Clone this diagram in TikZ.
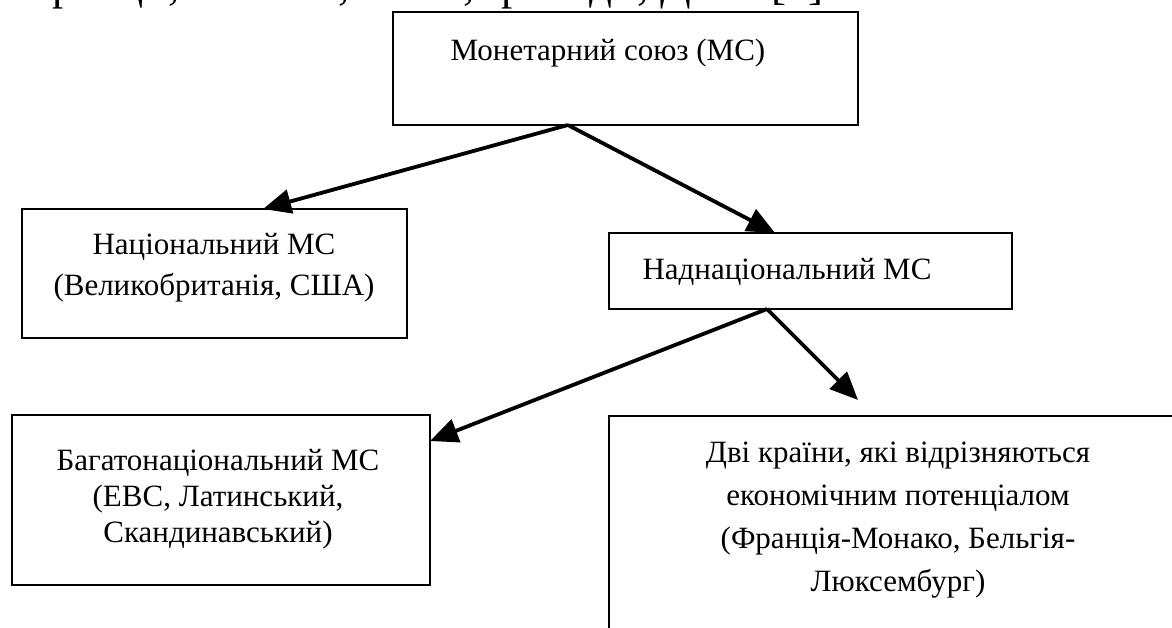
\documentclass[tikz,border=0pt]{standalone}
\usepackage{fontspec}
\setmainfont{Liberation Serif}
\usetikzlibrary{arrows.meta,calc}
\begin{document}
\begin{tikzpicture}[x=1pt,y=-1pt,
  box/.style={draw, line width=2.8pt, inner sep=0pt, outer sep=0pt},
  lbl/.style={font=\fontsize{31}{41}\selectfont, align=center, inner sep=0pt},
  arr/.style={line width=3.8pt, -{Triangle[length=28pt,width=24pt]}}]
\useasboundingbox (0,0) rectangle (1172,628);
\clip (0,0) rectangle (1172,628);
% cropped line of text at the top
\node[font=\fontsize{45}{54}\selectfont, inner sep=0pt, anchor=base west] (topline) at (17,0) {Франції, Монако, Італії, Ірландії, Данії [..].};
% boxes
\node[box, minimum width=465pt, minimum height=113pt, anchor=north west] (ms) at (393,12) {};
\node[box, minimum width=385pt, minimum height=129pt, anchor=north west] (nat) at (22,209) {};
\node[box, minimum width=403pt, minimum height=76pt, anchor=north west] (supra) at (609,233) {};
\node[box, minimum width=418pt, minimum height=170pt, anchor=north west] (multi) at (12,415) {};
\node[box, minimum width=700pt, minimum height=300pt, anchor=north west] (two) at (609,416) {};
% texts
\node[lbl] (tms) at (608,53) {Монетарний союз (МС)};
\node[lbl] (tnat) at (214,268) {Національний МС\\(Великобританія, США)};
\node[lbl] (tsupra) at (787,272) {Наднаціональний МС};
\node[lbl, font=\fontsize{31}{36}\selectfont] (tmulti) at (218,499) {Багатонаціональний МС\\(ЕВС, Латинський,\\Скандинавський)};
\node[lbl, font=\fontsize{31}{43}\selectfont] (ttwo) at (898,520) {Дві країни, які відрізняються\\економічним потенціалом\\(Франція-Монако, Бельгія-\\Люксембург)};
% connectors
\coordinate (tipfour) at ($(two.north west)+(249,-16)$);
\draw[arr] ($(ms.south west)!0.376!(ms.south east)$) -- ($(nat.north west)!0.626!(nat.north east)$);
\draw[arr] ($(ms.south west)!0.376!(ms.south east)$) -- ($(supra.north west)!0.412!(supra.north east)$);
\draw[arr] ($(supra.south west)!0.392!(supra.south east)$) -- ($(multi.north east)!0.153!(multi.south east)$);
\draw[arr] ($(supra.south west)!0.392!(supra.south east)$) -- (tipfour);
\end{tikzpicture}
\end{document}
